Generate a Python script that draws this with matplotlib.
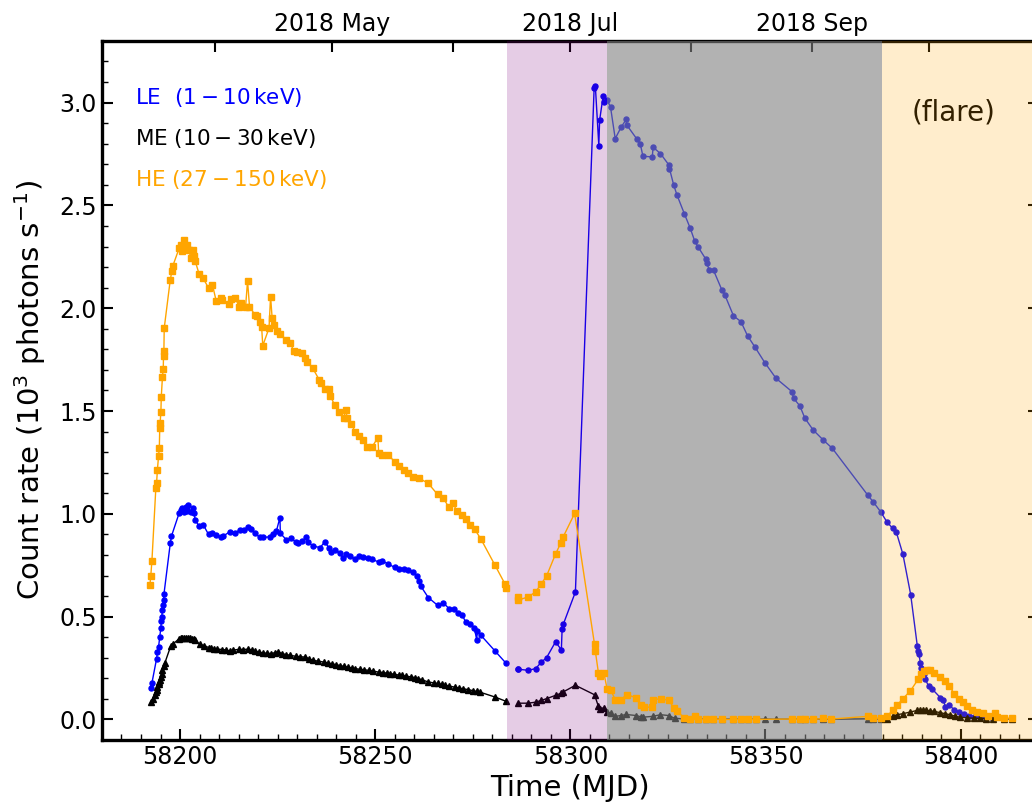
import datetime
import numpy as np
import matplotlib
matplotlib.use("Agg")
import matplotlib.pyplot as plt
from matplotlib.ticker import MultipleLocator

# --- light curves (MJD, count rate in 10^3 cts/s) ---
le_t = [58192.5, 58192.8, 58194.0, 58194.2, 58194.5, 58194.8, 58195.1, 58195.2, 58195.3, 58195.5,
        58195.7, 58195.8, 58195.9, 58197.5, 58197.8, 58199.8, 58200.2, 58200.6, 58201.0, 58201.5,
        58201.9, 58202.1, 58202.7, 58203.2, 58203.6, 58203.9, 58204.9, 58206.0, 58207.3, 58208.3,
        58209.3, 58210.4, 58211.0, 58212.7, 58214.2, 58215.3, 58216.4, 58217.5, 58218.3, 58219.3,
        58220.4, 58221.2, 58223.0, 58223.8, 58224.7, 58225.6, 58225.7, 58227.2, 58228.5, 58229.6,
        58230.2, 58231.3, 58232.3, 58232.7, 58234.1, 58235.9, 58237.1, 58238.1, 58238.7, 58239.6,
        58241.1, 58241.7, 58242.5, 58243.6, 58244.9, 58245.9, 58247.0, 58248.1, 58249.2, 58250.9,
        58251.7, 58253.2, 58255.0, 58256.1, 58257.3, 58258.5, 58259.8, 58260.6, 58261.2, 58261.7,
        58263.6, 58266.0, 58267.5, 58268.9, 58270.3, 58271.3, 58272.3, 58273.2, 58274.3, 58275.4,
        58276.0, 58276.2, 58277.1, 58280.7, 58283.4,
        58286.5, 58286.7, 58289.2, 58291.1, 58292.6, 58293.9, 58296.2, 58297.7, 58297.9, 58298.2,
        58301.3, 58306.1, 58306.4, 58307.3, 58307.5, 58308.4, 58308.5, 58309.4, 58310.3, 58311.5,
        58313.0, 58314.3, 58314.5, 58317.0, 58317.9, 58318.6, 58321.0, 58321.2, 58323.1, 58325.2,
        58325.4, 58326.5, 58327.3, 58329.2, 58330.7, 58331.9, 58332.8, 58334.7, 58334.9, 58335.6,
        58336.7, 58338.8, 58339.6, 58341.8, 58343.7, 58345.4, 58347.3, 58349.8, 58352.7, 58356.8,
        58357.2, 58358.8, 58360.1, 58362.2, 58364.8, 58367.1, 58376.2, 58377.6, 58379.5, 58381.1,
        58382.6, 58383.5, 58385.2, 58387.2, 58388.9, 58389.2, 58389.3, 58389.7, 58389.9, 58390.5,
        58390.9, 58391.8, 58392.6, 58394.8, 58395.6, 58396.1, 58397.1, 58398.4, 58399.5, 58400.8,
        58402.1, 58403.4, 58404.9, 58406.6, 58408.4, 58411.0, 58413.1]
le_rate = [0.154, 0.177, 0.296, 0.328, 0.352, 0.401, 0.447, 0.479, 0.498, 0.531,
           0.555, 0.580, 0.612, 0.856, 0.891, 1.005, 1.018, 1.026, 1.010, 1.034,
           1.015, 1.042, 1.010, 1.026, 1.002, 0.969, 0.940, 0.945, 0.900, 0.907,
           0.896, 0.888, 0.891, 0.912, 0.909, 0.921, 0.921, 0.934, 0.924, 0.905,
           0.885, 0.885, 0.888, 0.901, 0.917, 0.982, 0.905, 0.875, 0.880, 0.864,
           0.856, 0.868, 0.885, 0.864, 0.843, 0.836, 0.864, 0.836, 0.815, 0.823,
           0.810, 0.783, 0.807, 0.794, 0.778, 0.794, 0.791, 0.783, 0.778, 0.766,
           0.771, 0.758, 0.739, 0.734, 0.734, 0.726, 0.717, 0.697, 0.674, 0.648,
           0.593, 0.555, 0.567, 0.539, 0.539, 0.518, 0.507, 0.474, 0.466, 0.447,
           0.388, 0.430, 0.409, 0.333, 0.276,
           0.247, 0.244, 0.239, 0.247, 0.279, 0.300, 0.377, 0.339, 0.442, 0.463,
           0.620, 3.072, 3.083, 2.791, 2.914, 3.031, 3.002, 3.015, 2.978, 2.825,
           2.880, 2.918, 2.890, 2.824, 2.801, 2.739, 2.736, 2.783, 2.752, 2.698,
           2.679, 2.598, 2.552, 2.460, 2.390, 2.325, 2.296, 2.239, 2.220, 2.187,
           2.184, 2.090, 2.064, 1.963, 1.935, 1.866, 1.811, 1.736, 1.659, 1.594,
           1.562, 1.525, 1.465, 1.408, 1.359, 1.319, 1.091, 1.058, 1.010, 0.961,
           0.929, 0.912, 0.804, 0.607, 0.357, 0.331, 0.317, 0.274, 0.252, 0.223,
           0.198, 0.161, 0.150, 0.106, 0.093, 0.060, 0.068, 0.047, 0.036, 0.028,
           0.019, 0.011, 0.011, 0.008, 0.003, 0.004, 0.003]

me_t = [58192.5, 58193.0, 58193.5, 58193.8, 58194.0, 58194.2, 58194.5, 58194.7, 58194.9, 58195.1,
        58195.3, 58195.5, 58195.8, 58196.1, 58197.6, 58198.1, 58199.8, 58200.2, 58200.6, 58201.0,
        58201.5, 58202.0, 58202.5, 58203.0, 58203.5, 58203.9, 58205.0, 58206.2, 58207.4, 58208.0,
        58208.7, 58209.5, 58210.8, 58211.8, 58212.7, 58213.5, 58215.1, 58216.2, 58217.5, 58218.4,
        58219.3, 58220.2, 58221.2, 58222.3, 58223.4, 58224.3, 58225.1, 58226.2, 58227.2, 58228.3,
        58229.6, 58230.8, 58232.1, 58233.0, 58234.0, 58235.3, 58236.8, 58237.8, 58238.9, 58240.0,
        58241.0, 58241.9, 58243.0, 58244.0, 58244.9, 58246.0, 58247.2, 58248.3, 58249.5, 58250.9,
        58252.0, 58253.0, 58253.8, 58254.8, 58256.0, 58256.8, 58258.0, 58259.2, 58260.2, 58261.0,
        58262.0, 58263.6, 58265.0, 58266.0, 58267.0, 58268.0, 58269.0, 58270.4, 58271.4, 58272.5,
        58273.9, 58275.0, 58276.0, 58276.8, 58280.7, 58283.4,
        58286.5, 58289.2, 58291.1, 58292.6, 58293.9, 58296.2, 58297.7, 58298.1, 58301.3, 58306.2,
        58307.2, 58307.7, 58308.6, 58309.4, 58310.3, 58311.5, 58313.0, 58314.3, 58316.9, 58318.0,
        58318.6, 58321.1, 58323.1, 58325.2, 58326.7, 58329.2, 58330.7, 58332.8, 58334.7, 58336.5,
        58338.8, 58341.8, 58343.7, 58345.4, 58347.5, 58349.8, 58352.7, 58356.9, 58358.8, 58360.0,
        58362.3, 58364.8, 58366.9, 58376.2, 58377.6, 58379.5, 58381.1, 58382.6, 58383.7, 58385.2,
        58387.1, 58388.9, 58389.6, 58390.4, 58391.2, 58392.2, 58393.2, 58394.8, 58396.0, 58397.3,
        58398.5, 58399.8, 58401.6, 58403.3, 58404.9, 58406.6, 58408.4, 58411.0, 58413.1]
me_rate = [0.084, 0.100, 0.120, 0.133, 0.145, 0.157, 0.170, 0.182, 0.194, 0.206,
           0.222, 0.239, 0.258, 0.274, 0.356, 0.365, 0.393, 0.398, 0.398, 0.398,
           0.397, 0.397, 0.395, 0.393, 0.390, 0.385, 0.365, 0.359, 0.349, 0.347,
           0.344, 0.342, 0.340, 0.338, 0.333, 0.337, 0.341, 0.340, 0.342, 0.338,
           0.333, 0.328, 0.323, 0.322, 0.320, 0.325, 0.328, 0.320, 0.315, 0.312,
           0.307, 0.305, 0.303, 0.296, 0.287, 0.284, 0.279, 0.275, 0.271, 0.266,
           0.262, 0.258, 0.254, 0.250, 0.247, 0.244, 0.241, 0.239, 0.235, 0.230,
           0.228, 0.225, 0.223, 0.220, 0.216, 0.214, 0.210, 0.207, 0.203, 0.199,
           0.193, 0.182, 0.178, 0.175, 0.170, 0.166, 0.162, 0.157, 0.153, 0.149,
           0.145, 0.140, 0.136, 0.133, 0.109, 0.089,
           0.079, 0.079, 0.084, 0.093, 0.101, 0.117, 0.128, 0.133, 0.166, 0.120,
           0.063, 0.052, 0.057, 0.036, 0.031, 0.015, 0.019, 0.024, 0.019, 0.013,
           0.011, 0.015, 0.023, 0.019, 0.006, 0.002, 0.001, 0.002, 0.001, 0.002,
           0.001, 0.002, 0.001, 0.002, 0.001, 0.002, 0.001, 0.002, 0.001, 0.002,
           0.001, 0.002, 0.001, 0.003, 0.002, 0.002, 0.001, 0.015, 0.023, 0.028,
           0.036, 0.044, 0.045, 0.045, 0.044, 0.042, 0.039, 0.033, 0.028, 0.023,
           0.016, 0.011, 0.008, 0.006, 0.005, 0.004, 0.004, 0.003, 0.003]

he_t = [58192.3, 58192.5, 58192.8, 58193.8, 58194.0, 58194.2, 58194.5, 58194.7, 58194.8, 58194.9,
        58195.1, 58195.2, 58195.5, 58195.7, 58195.8, 58195.85, 58195.95, 58197.5, 58197.9, 58198.1,
        58199.8, 58200.2, 58200.6, 58201.0, 58201.5, 58201.9, 58202.3, 58202.7, 58203.2, 58203.6,
        58203.9, 58204.9, 58205.9, 58207.3, 58208.3, 58209.3, 58210.4, 58210.8, 58212.5, 58213.0,
        58214.2, 58215.1, 58215.6, 58216.8, 58217.3, 58217.8, 58219.2, 58219.8, 58220.4, 58220.9,
        58221.2, 58222.8, 58223.2, 58223.6, 58224.0, 58224.9, 58225.7, 58227.2, 58228.3, 58229.1,
        58230.0, 58231.3, 58232.1, 58232.6, 58234.0, 58235.7, 58236.2, 58237.1, 58238.1, 58238.5,
        58239.6, 58240.8, 58241.9, 58242.5, 58242.8, 58243.9, 58244.9, 58245.9, 58246.8, 58247.9,
        58249.2, 58250.7, 58250.9, 58251.7, 58253.4, 58255.0, 58256.1, 58257.3, 58258.5, 58259.8,
        58261.1, 58263.6, 58266.0, 58267.5, 58268.8, 58270.0, 58270.9, 58272.2, 58273.2, 58274.3,
        58275.5, 58277.1, 58280.7, 58283.2, 58283.5,
        58286.5, 58286.6, 58289.2, 58291.1, 58292.6, 58293.9, 58296.2, 58297.5, 58298.1, 58301.1,
        58306.2, 58306.4, 58307.2, 58307.7, 58308.6, 58309.4, 58310.3, 58311.5, 58313.0, 58314.4,
        58316.9, 58318.0, 58318.8, 58321.0, 58321.3, 58323.2, 58325.2, 58326.5, 58327.3, 58329.2,
        58330.7, 58331.9, 58332.8, 58334.7, 58336.5, 58338.8, 58341.8, 58343.7, 58345.4, 58347.5,
        58356.9, 58358.8, 58360.0, 58362.3, 58364.8, 58366.9, 58376.2, 58377.6, 58379.5, 58381.1,
        58382.6, 58383.7, 58385.2, 58387.1, 58389.1, 58389.9, 58390.7, 58391.4, 58392.2, 58393.2,
        58394.6, 58396.0, 58397.1, 58398.4, 58399.5, 58400.6, 58401.6, 58402.9, 58404.1, 58405.7,
        58407.1, 58408.8, 58409.4, 58411.0, 58413.1]
he_rate = [0.656, 0.697, 0.771, 1.124, 1.151, 1.213, 1.281, 1.322, 1.416, 1.440,
           1.497, 1.570, 1.667, 1.705, 1.790, 1.770, 1.903, 2.138, 2.179, 2.203,
           2.293, 2.309, 2.276, 2.333, 2.293, 2.309, 2.285, 2.244, 2.285, 2.252,
           2.228, 2.166, 2.147, 2.098, 2.114, 2.033, 2.052, 2.041, 2.020, 2.046,
           2.049, 2.008, 2.025, 2.008, 2.133, 2.008, 1.968, 1.960, 1.935, 1.911,
           1.818, 1.903, 2.057, 1.952, 1.919, 1.887, 1.874, 1.846, 1.830, 1.793,
           1.789, 1.781, 1.757, 1.740, 1.708, 1.651, 1.635, 1.607, 1.607, 1.575,
           1.529, 1.494, 1.468, 1.505, 1.465, 1.435, 1.399, 1.380, 1.359, 1.326,
           1.326, 1.370, 1.294, 1.286, 1.286, 1.253, 1.234, 1.213, 1.197, 1.180,
           1.175, 1.148, 1.094, 1.075, 1.034, 1.051, 1.013, 0.994, 0.974, 0.945,
           0.925, 0.877, 0.750, 0.661, 0.640,
           0.596, 0.580, 0.596, 0.620, 0.661, 0.697, 0.804, 0.856, 0.885, 1.002,
           0.365, 0.333, 0.226, 0.209, 0.226, 0.150, 0.145, 0.096, 0.096, 0.120,
           0.106, 0.068, 0.060, 0.060, 0.096, 0.101, 0.093, 0.057, 0.040, 0.008,
           0.000, 0.015, 0.000, 0.000, 0.002, 0.000, 0.000, 0.000, 0.000, 0.000,
           0.002, 0.000, 0.000, 0.000, 0.005, 0.002, 0.015, 0.006, 0.006, 0.015,
           0.044, 0.068, 0.101, 0.138, 0.195, 0.223, 0.235, 0.242, 0.239, 0.226,
           0.206, 0.187, 0.161, 0.125, 0.101, 0.084, 0.063, 0.044, 0.036, 0.031,
           0.019, 0.031, 0.011, 0.008, 0.005]

# observing gap between the two monitoring campaigns
gap_mjd = 58285.0

# shaded intervals (start, end, colour, alpha)
spans = [(58283.8, 58309.4, "purple", 0.2),
         (58309.4, 58379.8, "gray", 0.6),
         (58379.8, 58430.0, "orange", 0.2)]

top_months = [(2018, 4), (2018, 5), (2018, 6), (2018, 7), (2018, 8), (2018, 9), (2018, 10)]
top_labels = ["", "2018 May", "", "2018 Jul", "", "2018 Sep", ""]


def to_mjd(y, m):
    return (datetime.datetime(y, m, 1) - datetime.datetime(1858, 11, 17)).days


def plot_split(ax, t, r, **kw):
    t = np.asarray(t)
    r = np.asarray(r)
    for sel in (t < gap_mjd, t > gap_mjd):
        ax.plot(t[sel], r[sel], **kw)


fig = plt.figure(figsize=(10.32, 8.09), dpi=100)
ax = fig.add_axes([0.0988, 0.0853, 0.9077, 0.8641])

plot_split(ax, le_t, le_rate, color="blue", marker="o", ms=3.6, lw=1.0, zorder=2)
plot_split(ax, me_t, me_rate, color="black", marker="^", ms=4.4, lw=1.0, zorder=2)
plot_split(ax, he_t, he_rate, color="orange", marker="s", ms=4.0, lw=1.0, zorder=5)

ax.text(58398.2, 2.95, "(flare)", fontsize=20, ha="center", va="center", zorder=2)

for x0, x1, c, a in spans:
    ax.axvspan(x0, x1, color=c, alpha=a, lw=0, zorder=3)

ax.text(0.035, 0.919, r"LE  $(1-10\,\mathrm{keV})$", color="blue", fontsize=15.5,
        transform=ax.transAxes, va="center")
ax.text(0.035, 0.861, r"ME $(10-30\,\mathrm{keV})$", color="black", fontsize=15.5,
        transform=ax.transAxes, va="center")
ax.text(0.035, 0.802, r"HE $(27-150\,\mathrm{keV})$", color="orange", fontsize=15.5,
        transform=ax.transAxes, va="center")

ax.set_xlim(58180, 58420)
ax.set_ylim(-0.1, 3.3)
ax.xaxis.set_major_locator(MultipleLocator(50))
ax.xaxis.set_minor_locator(MultipleLocator(5))
ax.yaxis.set_major_locator(MultipleLocator(0.5))
ax.yaxis.set_minor_locator(MultipleLocator(0.1))
ax.tick_params(which="both", direction="in", top=False, right=True, labelsize=17)
ax.tick_params(which="major", length=8, width=1.5)
ax.tick_params(which="minor", length=4, width=1.0)
for s in ax.spines.values():
    s.set_linewidth(2.4)

ax.set_xlabel("Time (MJD)", fontsize=21, labelpad=4)
ax.set_ylabel(r"Count rate ($10^3$ photons s$^{-1}$)", fontsize=21, labelpad=8)

top = ax.secondary_xaxis("top")
top.set_xticks([to_mjd(y, m) for y, m in top_months])
top.set_xticklabels(top_labels)
top.tick_params(direction="in", length=8, width=1.5, labelsize=17)
top.xaxis.set_minor_locator(plt.NullLocator())

fig.savefig("out.png", dpi=100)
